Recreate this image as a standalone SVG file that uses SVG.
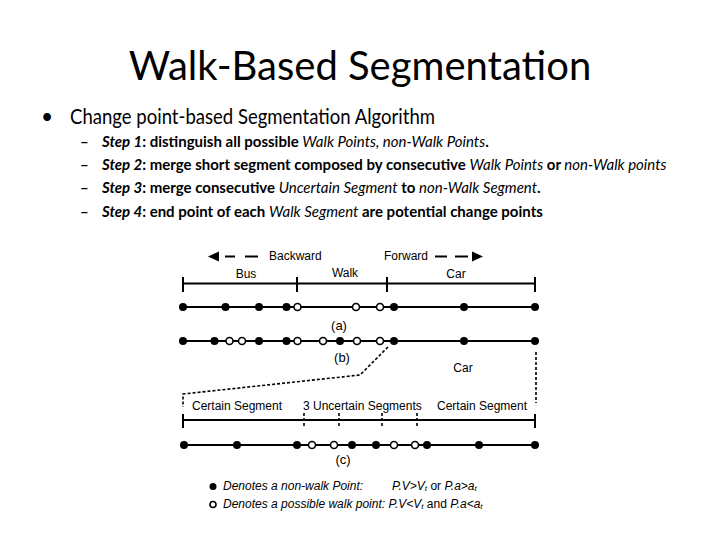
<svg xmlns="http://www.w3.org/2000/svg" width="720" height="540" viewBox="0 0 720 540">
<style>
.title{font-family:Lato,"Open Sans","Liberation Sans",sans-serif;font-size:40px;fill:#000}
.b1{font-family:Lato,"Open Sans","Liberation Sans",sans-serif;font-size:21px;fill:#000}
.b2{font-family:Lato,"Open Sans","Liberation Sans",sans-serif;font-size:15px;fill:#000;font-weight:bold}
.bi{font-style:italic;font-weight:bold}
.it{font-style:italic;font-weight:normal}
.d{font-family:"Liberation Sans",Arial,sans-serif;font-size:12px;fill:#000}
.lab{font-family:"Liberation Sans",Arial,sans-serif;font-size:13px;fill:#000;text-anchor:middle}
.leg{font-family:"Liberation Sans",Arial,sans-serif;font-size:12px;fill:#000;font-style:italic}
.up{font-style:normal}
.sub{font-size:8px}
.ln{stroke:#000;stroke-width:2;fill:none}
.dash{stroke:#000;stroke-width:1.6;fill:none;stroke-dasharray:3 2}
.f{fill:#000}
.o{fill:#fff;stroke:#000;stroke-width:1.6}
</style>
<rect width="720" height="540" fill="#fff"/>
<g id="slide-text">
<text class="title" x="360" y="80" text-anchor="middle">Walk-Based Segmentation</text>
<text class="b1" x="41" y="124">•</text>
<text class="b1" x="70" y="124" textLength="365" lengthAdjust="spacingAndGlyphs">Change point-based Segmentation Algorithm</text>
<text class="b2" x="80" y="147">–</text>
<text class="b2" x="102" y="147"><tspan class="bi">Step 1</tspan>: distinguish all possible <tspan class="it">Walk Points, non-Walk Points</tspan>.</text>
<text class="b2" x="80" y="170">–</text>
<text class="b2" x="102" y="170"><tspan class="bi">Step 2</tspan>: merge short segment composed by consecutive <tspan class="it">Walk Points</tspan> or <tspan class="it">non-Walk points</tspan></text>
<text class="b2" x="80" y="193">–</text>
<text class="b2" x="102" y="193"><tspan class="bi">Step 3</tspan>: merge consecutive <tspan class="it">Uncertain Segment</tspan> to <tspan class="it">non-Walk Segment</tspan>.</text>
<text class="b2" x="80" y="217">–</text>
<text class="b2" x="102" y="217"><tspan class="bi">Step 4</tspan>: end point of each <tspan class="it">Walk Segment</tspan> are potential change points</text>
</g>
<g id="direction">
<polygon class="f" points="208,256.5 219,251.5 219,261.5"/>
<line class="ln" x1="225" y1="256.5" x2="235" y2="256.5"/>
<line class="ln" x1="245" y1="256.5" x2="258" y2="256.5"/>
<text class="d" x="269" y="260">Backward</text>
<text class="d" x="384" y="260">Forward</text>
<line class="ln" x1="435" y1="256.5" x2="447" y2="256.5"/>
<line class="ln" x1="455" y1="256.5" x2="468" y2="256.5"/>
<polygon class="f" points="483,256.5 472,251.5 472,261.5"/>
</g>
<g id="top-scale">
<text class="d" x="246" y="278" text-anchor="middle">Bus</text>
<text class="d" x="345" y="277" text-anchor="middle">Walk</text>
<text class="d" x="456" y="278" text-anchor="middle">Car</text>
<line class="ln" x1="183" y1="283.5" x2="535" y2="283.5"/>
<line class="ln" x1="183" y1="277" x2="183" y2="292"/>
<line class="ln" x1="297" y1="277" x2="297" y2="292"/>
<line class="ln" x1="387" y1="277" x2="387" y2="292"/>
<line class="ln" x1="535" y1="277" x2="535" y2="292"/>
</g>
<g id="row-a">
<line class="ln" x1="183" y1="307" x2="535" y2="307"/>
<circle class="f" cx="183" cy="307" r="4"/>
<circle class="f" cx="225.5" cy="307" r="4"/>
<circle class="f" cx="259" cy="307" r="4"/>
<circle class="f" cx="286.5" cy="307" r="4"/>
<circle class="o" cx="297.5" cy="307" r="3.5"/>
<circle class="o" cx="356" cy="307" r="3.5"/>
<circle class="o" cx="380" cy="307" r="3.5"/>
<circle class="f" cx="394" cy="307" r="4"/>
<circle class="f" cx="464" cy="307" r="4"/>
<circle class="f" cx="535" cy="307" r="4"/>
<text class="lab" x="339" y="330">(a)</text>
</g>
<g id="row-b">
<line class="ln" x1="183" y1="341" x2="535" y2="341"/>
<circle class="f" cx="183" cy="341" r="4"/>
<circle class="f" cx="214.5" cy="341" r="4"/>
<circle class="o" cx="229.5" cy="341" r="3.5"/>
<circle class="o" cx="242" cy="341" r="3.5"/>
<circle class="f" cx="259" cy="341" r="4"/>
<circle class="f" cx="286.5" cy="341" r="4"/>
<circle class="o" cx="297.5" cy="341" r="3.5"/>
<circle class="o" cx="323" cy="341" r="3.5"/>
<circle class="f" cx="340" cy="341" r="4"/>
<circle class="o" cx="357" cy="341" r="3.5"/>
<circle class="o" cx="380" cy="341" r="3.5"/>
<circle class="f" cx="394" cy="341" r="4"/>
<circle class="f" cx="464" cy="341" r="4"/>
<circle class="f" cx="535" cy="341" r="4"/>
<text class="lab" x="342" y="362">(b)</text>
</g>
<g id="connectors">
<path class="dash" d="M388,347 L360,375 L183,394 L183,407"/>
<path class="dash" d="M536,352 L536,403"/>
</g>
<g id="bottom-scale">
<text class="d" x="463" y="372" text-anchor="middle">Car</text>
<text class="d" x="192" y="410">Certain Segment</text>
<text class="d" x="303" y="410">3 Uncertain Segments</text>
<text class="d" x="437" y="410">Certain Segment</text>
<line class="ln" x1="183" y1="420" x2="535" y2="420"/>
<line class="ln" x1="183" y1="414" x2="183" y2="428"/>
<line class="ln" x1="535" y1="414" x2="535" y2="428"/>
<line class="dash" x1="304" y1="413" x2="304" y2="428"/>
<line class="dash" x1="339" y1="413" x2="339" y2="428"/>
<line class="dash" x1="382" y1="413" x2="382" y2="428"/>
<line class="dash" x1="417" y1="413" x2="417" y2="428"/>
</g>
<g id="row-c">
<line class="ln" x1="183" y1="445" x2="535" y2="445"/>
<circle class="f" cx="184" cy="445" r="4"/>
<circle class="f" cx="237" cy="445" r="4"/>
<circle class="f" cx="297" cy="445" r="4"/>
<circle class="o" cx="312" cy="445" r="3.5"/>
<circle class="o" cx="334" cy="445" r="3.5"/>
<circle class="f" cx="352" cy="445" r="4"/>
<circle class="f" cx="376" cy="445" r="4"/>
<circle class="o" cx="394" cy="445" r="3.5"/>
<circle class="o" cx="415" cy="445" r="3.5"/>
<circle class="f" cx="427" cy="445" r="4"/>
<circle class="f" cx="479" cy="445" r="4"/>
<circle class="f" cx="535" cy="445" r="4"/>
<text class="lab" x="343" y="464">(c)</text>
</g>
<g id="legend">
<circle class="f" cx="213" cy="486.5" r="3.5"/>
<text class="leg" x="223" y="490">Denotes a non-walk Point:</text>
<text class="leg" x="392" y="490">P.V&gt;V<tspan class="sub" dy="1">t</tspan><tspan class="up" dy="-1"> or </tspan>P.a&gt;a<tspan class="sub" dy="1">t</tspan></text>
<circle class="o" cx="213" cy="504.5" r="3"/>
<text class="leg" x="223" y="508">Denotes a possible walk point: P.V&lt;V<tspan class="sub" dy="1">t</tspan><tspan class="up" dy="-1"> and </tspan>P.a&lt;a<tspan class="sub" dy="1">t</tspan></text>
</g>
</svg>
